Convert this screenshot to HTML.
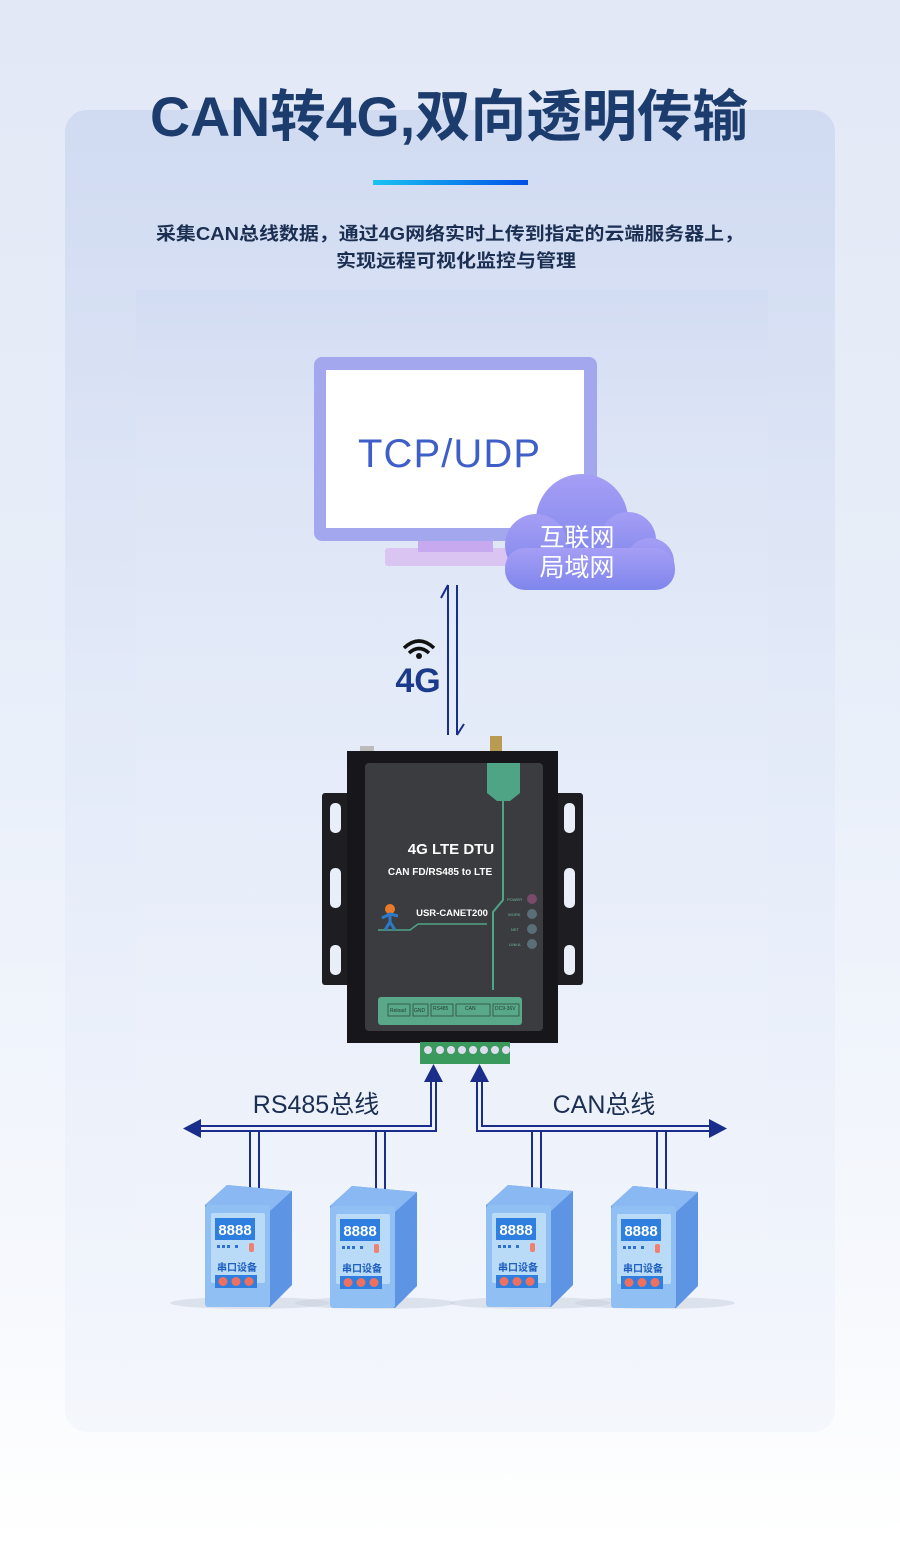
<!DOCTYPE html>
<html><head><meta charset="utf-8"><style>
html,body{margin:0;padding:0}
body{width:900px;height:1541px;overflow:hidden;background:#fff}
svg text{font-family:"Liberation Sans","Noto Sans CJK SC",sans-serif}
</style></head><body>
<svg width="900" height="1541" viewBox="0 0 900 1541" xmlns="http://www.w3.org/2000/svg">
<defs>
<linearGradient id="bg" x1="0" y1="0" x2="0" y2="1">
<stop offset="0" stop-color="#e2e8f5"/><stop offset="0.5" stop-color="#eaf0fa"/><stop offset="0.85" stop-color="#f7f9fd"/><stop offset="1" stop-color="#ffffff"/></linearGradient>
<linearGradient id="panel" x1="0" y1="0" x2="0" y2="1">
<stop offset="0" stop-color="#cdd8f0"/><stop offset="0.45" stop-color="#e2e9f8"/><stop offset="1" stop-color="#f3f6fc"/></linearGradient>
<linearGradient id="inner" x1="0" y1="0" x2="0" y2="1">
<stop offset="0" stop-color="#cfd9f1" stop-opacity="0.6"/><stop offset="0.15" stop-color="#dfe6f7" stop-opacity="0.3"/><stop offset="1" stop-color="#ffffff" stop-opacity="0"/></linearGradient>
<linearGradient id="bar" x1="0" y1="0" x2="1" y2="0"><stop offset="0" stop-color="#19c3f2"/><stop offset="1" stop-color="#0050e8"/></linearGradient>
<linearGradient id="cloud" x1="0" y1="0" x2="0" y2="1"><stop offset="0" stop-color="#a59ef5"/><stop offset="1" stop-color="#7f86ec"/></linearGradient>
<g id="dev">
<polygon points="0,20 22,0 87,6 87,100 65,122 0,116" fill="#5e94e4"/>
<polygon points="0,20 22,0 87,6 65,26" fill="#8ab8f2"/>
<rect x="0" y="20" width="65" height="102" rx="3" fill="#8fbff3"/>
<rect x="6" y="28" width="54" height="70" rx="2" fill="#b9dbf8"/>
<rect x="10" y="33" width="40" height="22" fill="#2f7fe0"/>
<text x="30" y="50" font-size="15" fill="#fff" text-anchor="middle" font-weight="bold">8888</text>
<rect x="12" y="60" width="3" height="3" fill="#2f6fd0"/><rect x="17" y="60" width="3" height="3" fill="#2f6fd0"/><rect x="22" y="60" width="3" height="3" fill="#2f6fd0"/><rect x="30" y="60" width="3" height="3" fill="#2f6fd0"/>
<rect x="44" y="58" width="5" height="9" rx="2" fill="#f08070"/>
<text x="32" y="86" font-size="10" fill="#1f5fc0" text-anchor="middle" font-weight="bold">串口设备</text>
<rect x="10" y="90" width="42" height="13" fill="#2f7fe0"/>
<circle cx="18" cy="96.5" r="4.5" fill="#f07060"/><circle cx="31" cy="96.5" r="4.5" fill="#f07060"/><circle cx="44" cy="96.5" r="4.5" fill="#f07060"/>
</g>
</defs>
<rect width="900" height="1541" fill="url(#bg)"/>
<rect x="65" y="110" width="770" height="1322" rx="22" fill="url(#panel)" opacity="0.85"/>
<rect x="136" y="290" width="632" height="1040" fill="url(#inner)"/>
<text x="150" y="136" font-size="56" font-weight="bold" fill="#1b3c6c" textLength="598" lengthAdjust="spacingAndGlyphs">CAN转4G,双向透明传输</text>
<rect x="373" y="180" width="155" height="5" fill="url(#bar)"/>
<text x="450" y="240" font-size="18" fill="#1b2f52" text-anchor="middle" font-weight="bold" textLength="588" lengthAdjust="spacingAndGlyphs">采集CAN总线数据，通过4G网络实时上传到指定的云端服务器上，</text>
<text x="456" y="267" font-size="18" fill="#1b2f52" text-anchor="middle" font-weight="bold" textLength="240" lengthAdjust="spacingAndGlyphs">实现远程可视化监控与管理</text>
<!-- monitor -->
<rect x="385" y="548" width="140" height="18" rx="3" fill="#d9c4f2"/>
<rect x="418" y="530" width="75" height="22" fill="#c6a9ef"/>
<rect x="314" y="357" width="283" height="184" rx="8" fill="#a3a8ee"/>
<rect x="326" y="370" width="258" height="158" fill="#fff"/>
<text x="449" y="467" font-size="40" fill="#3f5fc8" text-anchor="middle" textLength="182" lengthAdjust="spacing">TCP/UDP</text>
<!-- cloud -->
<g fill="url(#cloud)">
<circle cx="582" cy="520" r="46"/>
<circle cx="536" cy="545" r="31"/>
<circle cx="628" cy="540" r="28"/>
<circle cx="650" cy="562" r="24"/>
<rect x="505" y="548" width="170" height="42" rx="20"/>
</g>
<text x="577" y="546" font-size="25" fill="#fff" text-anchor="middle">互联网</text>
<text x="577" y="576" font-size="25" fill="#fff" text-anchor="middle">局域网</text>
<!-- 4G link -->
<g stroke="#1a2d8a" stroke-width="2" fill="none">
<line x1="448" y1="585" x2="448" y2="735"/><polyline points="441,598 448,585"/>
<line x1="457" y1="585" x2="457" y2="735"/><polyline points="457,735 464,724"/>
</g>
<g fill="none" stroke="#111" stroke-width="3.5">
<path d="M404,648 Q419,634 434,648"/><path d="M409,653 Q419,644 429,653"/>
</g>
<circle cx="419" cy="656" r="3" fill="#111"/>
<text x="418" y="692" font-size="34" font-weight="bold" fill="#1a3a8a" text-anchor="middle">4G</text>
<!-- device -->
<rect x="360" y="746" width="14" height="8" fill="#bbb"/>
<rect x="490" y="736" width="12" height="20" fill="#b89a50"/>
<rect x="322" y="793" width="30" height="192" rx="3" fill="#1d1d22"/>
<rect x="553" y="793" width="30" height="192" rx="3" fill="#1d1d22"/>
<g fill="#e9eef8"><rect x="330" y="803" width="11" height="30" rx="5"/><rect x="330" y="868" width="11" height="40" rx="5"/><rect x="330" y="945" width="11" height="30" rx="5"/>
<rect x="564" y="803" width="11" height="30" rx="5"/><rect x="564" y="868" width="11" height="40" rx="5"/><rect x="564" y="945" width="11" height="30" rx="5"/></g>
<rect x="347" y="751" width="211" height="292" fill="#17171b"/>
<rect x="365" y="763" width="178" height="268" rx="4" fill="#3b3c40"/>
<path d="M487,763 h33 v30 l-10,8 H497 l-10,-8z" fill="#4fa485"/>
<polyline points="503,801 503,900 493,912 493,990" stroke="#4fa485" stroke-width="2" fill="none"/>
<polyline points="378,930 410,930 418,924 487,924" stroke="#4fa485" stroke-width="1.5" fill="none"/>
<rect x="378" y="997" width="144" height="28" rx="3" fill="#5aa88a"/>
<g fill="none" stroke="#2d4d3d" stroke-width="0.8"><rect x="388" y="1004" width="22" height="12"/><rect x="413" y="1004" width="15" height="12"/><rect x="431" y="1004" width="22" height="12"/><rect x="456" y="1004" width="34" height="12"/><rect x="493" y="1004" width="26" height="12"/></g>
<g font-size="5" fill="#1d3b2d"><text x="390" y="1012">Reload</text><text x="414" y="1012">GND</text><text x="433" y="1010">RS485</text><text x="465" y="1010">CAN</text><text x="495" y="1010">DC9-36V</text></g>
<text x="451" y="854" font-size="15" font-weight="bold" fill="#fff" text-anchor="middle">4G LTE DTU</text>
<text x="440" y="875" font-size="10" font-weight="bold" fill="#fff" text-anchor="middle">CAN FD/RS485 to LTE</text>
<text x="452" y="916" font-size="9.5" font-weight="bold" fill="#fff" text-anchor="middle">USR-CANET200</text>
<circle cx="390" cy="909" r="5" fill="#e87a2a"/>
<path d="M382,918 l8,-4 8,2 M390,914 v8 l-5,8 M390,922 l5,8" stroke="#2e78c8" stroke-width="3" fill="none"/>
<g font-size="4" fill="#6fb898"><text x="507" y="901">POWER</text><text x="508" y="916">WORK</text><text x="511" y="931">NET</text><text x="509" y="946">LINKA</text></g>
<circle cx="532" cy="899" r="5" fill="#7a4a6a"/><circle cx="532" cy="914" r="5" fill="#5a6e78"/><circle cx="532" cy="929" r="5" fill="#5a6e78"/><circle cx="532" cy="944" r="5" fill="#5a6e78"/>
<rect x="420" y="1042" width="90" height="22" fill="#3a9a5e"/>
<g fill="#dde"><circle cx="428" cy="1050" r="4"/><circle cx="440" cy="1050" r="4"/><circle cx="451" cy="1050" r="4"/><circle cx="462" cy="1050" r="4"/><circle cx="473" cy="1050" r="4"/><circle cx="484" cy="1050" r="4"/><circle cx="495" cy="1050" r="4"/><circle cx="506" cy="1050" r="4"/></g>
<!-- buses -->
<g stroke="#1a2d8a" stroke-width="2" fill="none">
<polyline points="431,1078 431,1126 198,1126"/>
<polyline points="436,1078 436,1131 198,1131"/>
<polyline points="477,1078 477,1131 712,1131"/>
<polyline points="482,1078 482,1126 712,1126"/>
<line x1="250" y1="1131" x2="250" y2="1190"/><line x1="259" y1="1131" x2="259" y2="1190"/>
<line x1="376" y1="1131" x2="376" y2="1190"/><line x1="385" y1="1131" x2="385" y2="1190"/>
<line x1="532" y1="1131" x2="532" y2="1190"/><line x1="541" y1="1131" x2="541" y2="1190"/>
<line x1="657" y1="1131" x2="657" y2="1190"/><line x1="666" y1="1131" x2="666" y2="1190"/>
</g>
<g fill="#1a2d8a">
<polygon points="433.5,1064 424,1082 443,1082"/>
<polygon points="479.5,1064 470,1082 489,1082"/>
<polygon points="183,1128.5 201,1119 201,1138"/>
<polygon points="727,1128.5 709,1119 709,1138"/>
</g>
<text x="316" y="1113" font-size="25" fill="#1b2f52" text-anchor="middle">RS485总线</text>
<text x="604" y="1113" font-size="25" fill="#1b2f52" text-anchor="middle">CAN总线</text>
<ellipse cx="250" cy="1303" rx="80" ry="6" fill="#c8d0de" opacity="0.5"/>
<ellipse cx="375" cy="1303" rx="80" ry="6" fill="#c8d0de" opacity="0.5"/>
<ellipse cx="530" cy="1303" rx="80" ry="6" fill="#c8d0de" opacity="0.5"/>
<ellipse cx="655" cy="1303" rx="80" ry="6" fill="#c8d0de" opacity="0.5"/>
<use href="#dev" x="205" y="1185"/>
<use href="#dev" x="330" y="1186"/>
<use href="#dev" x="486" y="1185"/>
<use href="#dev" x="611" y="1186"/>
</svg>
</body></html>
